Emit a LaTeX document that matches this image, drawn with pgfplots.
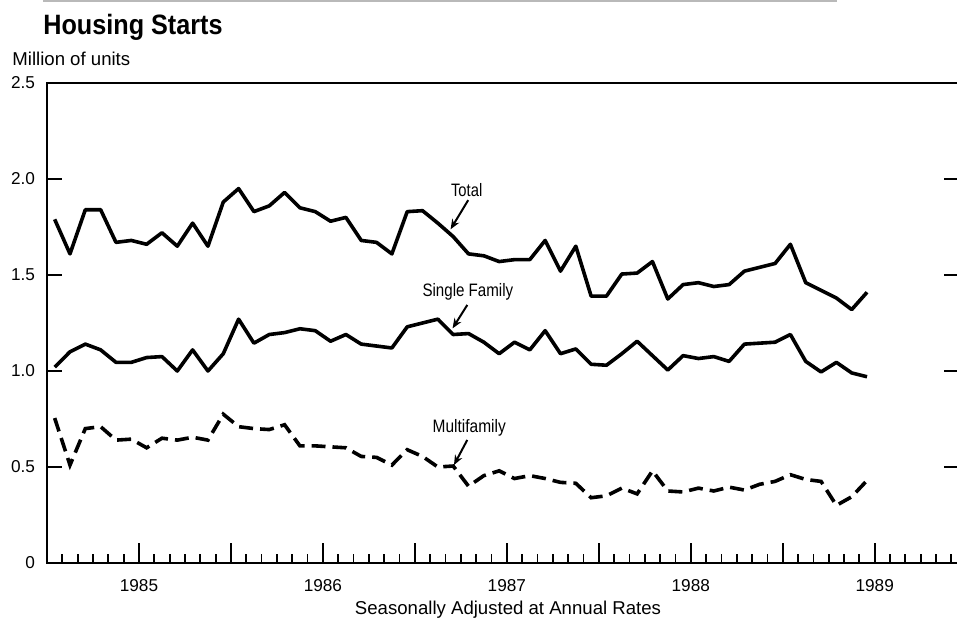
\documentclass[border=0pt]{standalone}
\usepackage{pgfplots}
\pgfplotsset{compat=1.18}
\usepackage{pgfplotstable}
\usepackage{fontspec}
\setmainfont{Liberation Sans}
\usetikzlibrary{arrows.meta}
\pgfplotstableread{
x total single multi
0.5 1.79 1.02 0.755
1.5 1.61 1.10 0.51
2.5 1.84 1.14 0.70
3.5 1.84 1.11 0.71
4.5 1.67 1.045 0.64
5.5 1.68 1.045 0.645
6.5 1.66 1.07 0.60
7.5 1.72 1.075 0.65
8.5 1.65 1.00 0.64
9.5 1.77 1.11 0.655
10.5 1.65 1.00 0.64
11.5 1.88 1.09 0.775
12.5 1.95 1.27 0.71
13.5 1.83 1.145 0.70
14.5 1.86 1.19 0.695
15.5 1.93 1.20 0.72
16.5 1.85 1.22 0.61
17.5 1.83 1.21 0.61
18.5 1.78 1.155 0.605
19.5 1.80 1.19 0.60
20.5 1.68 1.14 0.555
21.5 1.67 1.13 0.55
22.5 1.61 1.12 0.51
23.5 1.83 1.23 0.59
24.5 1.835 1.25 0.555
25.5 1.77 1.27 0.50
26.5 1.70 1.19 0.505
27.5 1.61 1.195 0.40
28.5 1.60 1.15 0.455
29.5 1.57 1.09 0.48
30.5 1.58 1.15 0.44
31.5 1.58 1.11 0.455
32.5 1.68 1.21 0.44
33.5 1.52 1.09 0.42
34.5 1.65 1.115 0.415
35.5 1.39 1.035 0.34
36.5 1.39 1.03 0.35
37.5 1.505 1.09 0.39
38.5 1.51 1.155 0.36
39.5 1.57 1.08 0.48
40.5 1.375 1.005 0.375
41.5 1.45 1.08 0.37
42.5 1.46 1.065 0.39
43.5 1.44 1.075 0.375
44.5 1.45 1.05 0.395
45.5 1.52 1.14 0.38
46.5 1.54 1.145 0.41
47.5 1.56 1.15 0.425
48.5 1.66 1.19 0.46
49.5 1.46 1.05 0.435
50.5 1.42 0.995 0.425
51.5 1.38 1.045 0.30
52.5 1.32 0.99 0.345
53.5 1.41 0.97 0.43
}\housing
\begin{document}
\begin{tikzpicture}[x=1pt,y=1pt]
\path[use as bounding box] (-23.5,-28.5) rectangle (455,281.5);
\draw[gray!55, line width=0.7pt] (-2,281) -- (395,281);
\node[anchor=base west, inner sep=0] at (-2,264) {\scalebox{0.9}[1]{\fontsize{14}{16}\selectfont\bfseries Housing Starts}};
\node[anchor=base west, inner sep=0] at (-17.5,248.5) {\fontsize{9.3}{11}\selectfont Million of units};
\begin{axis}[at={(0,0)}, anchor=south west, scale only axis,
  width=456pt, height=240pt,
  xmin=0, xmax=59.5, ymin=0, ymax=2.5,
  axis line style={line width=1pt},
  tick align=inside,
  tick style={black, line width=1pt},
  minor tick style={black, line width=0.9pt},
  ytick={0,0.5,1,1.5,2,2.5},
  yticklabels={0,0.5,1.0,1.5,2.0,2.5},
  ytick pos=both,
  xtick={0,6,...,54},
  xticklabels={,1985,,1986,,1987,,1988,,1989},
  minor xtick={1,...,59},
  xtick pos=left,
  xtick style={/pgfplots/major tick length=10pt, /pgfplots/minor tick length=4.5pt},
  ytick style={/pgfplots/major tick length=7.5pt},
  /pgf/number format/assume math mode=true,
  ticklabel style={font=\fontsize{8.6}{10}\selectfont},
  xticklabel style={yshift=-4.5pt},
  yticklabel style={xshift=-2.5pt},
  clip=false,
]
\addplot[black, line width=1.8pt, line join=round] table[x=x, y=total] {\housing};
\addplot[black, line width=1.8pt, line join=round] table[x=x, y=single] {\housing};
\addplot[black, line width=1.8pt, dash pattern=on 7pt off 3.5pt] table[x=x, y=multi] {\housing};
\node[inner sep=0, font=\fontsize{9}{10}\selectfont] at (axis cs:27.38,1.943) {\scalebox{0.82}[1]{Total}};
\node[inner sep=0, font=\fontsize{9}{10}\selectfont] at (axis cs:27.46,1.414) {\scalebox{0.84}[1]{Single Family}};
\node[inner sep=0, font=\fontsize{9}{10}\selectfont] at (axis cs:27.55,0.706) {\scalebox{0.86}[1]{Multifamily}};
\draw[line width=1pt, -{Stealth[length=5pt,width=4pt]}] (axis cs:27.48,1.89) -- (axis cs:26.33,1.738);
\draw[line width=1pt, -{Stealth[length=5pt,width=4pt]}] (axis cs:27.42,1.344) -- (axis cs:26.46,1.222);
\draw[line width=1pt, -{Stealth[length=5pt,width=4pt]}] (axis cs:27.42,0.641) -- (axis cs:26.55,0.510);
\end{axis}
\node[anchor=base, inner sep=0] at (230.5,-26) {\fontsize{9.3}{11}\selectfont Seasonally Adjusted at Annual Rates};
\end{tikzpicture}
\end{document}
